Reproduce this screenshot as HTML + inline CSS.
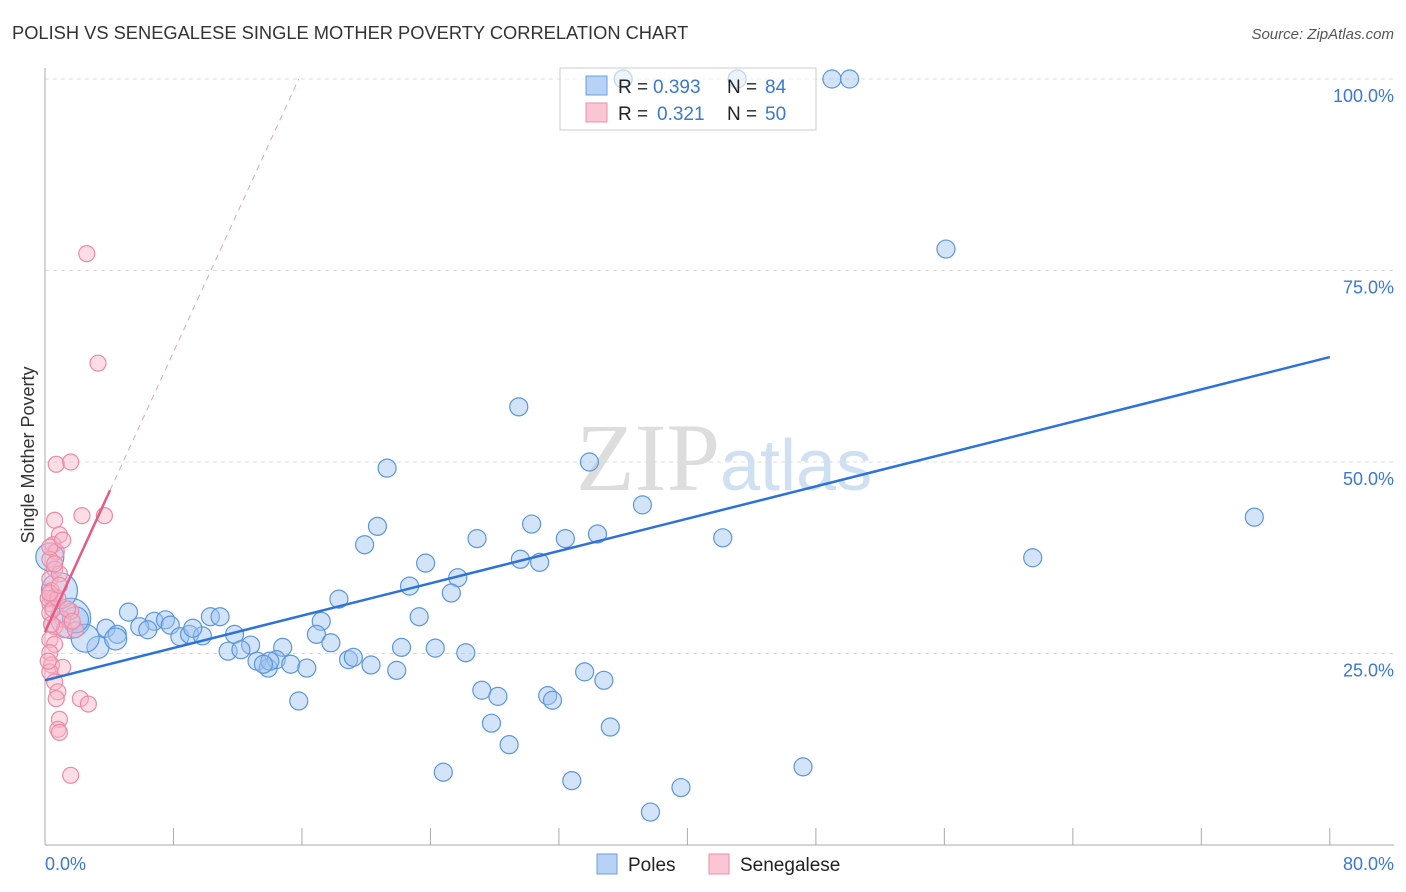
<!DOCTYPE html>
<html><head><meta charset="utf-8"><style>
body{margin:0;background:#fff;font-family:"Liberation Sans",sans-serif;}
svg{display:block}
</style></head><body>
<svg id="chart" width="1406" height="892" xmlns="http://www.w3.org/2000/svg">
<text x="12" y="39" font-size="18.3" fill="#333">POLISH VS SENEGALESE SINGLE MOTHER POVERTY CORRELATION CHART</text>
<text x="1394" y="39" font-size="15" fill="#555" font-style="italic" text-anchor="end">Source: ZipAtlas.com</text>
<text x="720" y="490" font-size="96" fill="#ddd" font-family="Liberation Serif" text-anchor="end">ZIP</text>
<text x="720" y="490" font-size="72" fill="#cfe0f3">atlas</text>
<g id="grid"></g>
<line x1="45" y1="68" x2="45" y2="845" stroke="#aaa"/>
<line x1="45" y1="845" x2="1394" y2="845" stroke="#aaa"/>
<text x="34" y="455" font-size="18" fill="#333" text-anchor="middle" transform="rotate(-90 34 455)">Single Mother Poverty</text>
<text x="45" y="870" font-size="18" fill="#3a78d4">0.0%</text>
<text x="1394" y="870" font-size="18" fill="#3a78d4" text-anchor="end">80.0%</text>
<g id="points"></g>
<g id="trends"></g>
<g>
<rect x="560" y="68" width="256" height="62" fill="#fff" fill-opacity="0.6" stroke="#ccc"/>
<rect x="586" y="76" width="21" height="19" fill="#b7d2f4" stroke="#6a9fe0"/>
<rect x="586" y="103" width="21" height="19" fill="#fbc6d4" stroke="#ee8fa9"/>
<text x="618" y="93" font-size="19" fill="#222">R =</text>
<text x="653" y="93" font-size="19" fill="#3a78d4">0.393</text>
<text x="727" y="93" font-size="19" fill="#222">N =</text>
<text x="765" y="93" font-size="19" fill="#3a78d4">84</text>
<text x="618" y="120" font-size="19" fill="#222">R =</text>
<text x="657" y="120" font-size="19" fill="#3a78d4">0.321</text>
<text x="727" y="120" font-size="19" fill="#222">N =</text>
<text x="765" y="120" font-size="19" fill="#3a78d4">50</text>
</g>
<g>
<rect x="597" y="854" width="20" height="20" fill="#b7d2f4" stroke="#6a9fe0"/>
<text x="628" y="871" font-size="19" fill="#222">Poles</text>
<rect x="709" y="854" width="20" height="20" fill="#fbc6d4" stroke="#ee8fa9"/>
<text x="740" y="871" font-size="19" fill="#222">Senegalese</text>
</g>
</svg>
<script>
const yTicks=[25,50,75,100];
const yTickLabels=["25.0%","50.0%","75.0%","100.0%"];
const xTicks=[8,16,24,32,40,48,56,64,72,80];
const polesX=[36.0,43.1,49.0,50.1,56.1,29.5,21.3,33.9,37.2,75.3,30.3,20.7,26.9,32.4,34.4,42.2,19.9,61.5,29.6,30.8,23.7,25.7,22.7,25.3,18.3,5.2,23.3,17.2,6.8,7.5,10.3,10.9,5.9,6.4,7.8,3.8,4.5,8.4,9.0,9.8,11.8,16.9,17.8,12.8,14.8,22.2,24.3,26.2,11.4,12.2,13.2,13.9,14.4,15.3,16.3,18.9,19.2,20.3,21.9,33.6,34.8,27.2,28.2,31.3,31.6,15.8,27.8,35.2,28.9,24.8,32.8,47.2,39.6,37.7,3.3,1.6,0.9,0.3,2.5,4.4,1.9,14.0,9.2,13.6];
const polesY=[100,100,100,100,77.8,57.2,49.2,50.0,44.4,42.8,41.9,41.6,40.0,40.0,40.6,40.1,39.2,37.5,37.3,36.9,36.8,34.9,33.8,32.9,32.1,30.4,29.8,29.2,29.2,29.4,29.8,29.8,28.5,28.1,28.7,28.3,27.5,27.2,27.5,27.3,27.5,27.5,26.4,26.1,25.8,25.8,25.7,25.1,25.3,25.5,24.0,23.1,24.2,23.6,23.1,24.2,24.5,23.5,22.8,22.6,21.5,20.2,19.4,19.5,18.9,18.8,15.9,15.4,13.1,9.5,8.4,10.2,7.5,4.3,25.8,29.6,33.2,37.6,27.0,26.9,29.4,24.0,28.3,23.6];
const polesR=[9,9,9,9,9,9,9,9,9,9,9,9,9,9,9,9,9,9,9,9,9,9,9,9,9,9,9,9,9,9,9,9,9,9,9,9,9,9,9,9,9,9,9,9,9,9,9,9,9,9,9,9,9,9,9,9,9,9,9,9,9,9,9,9,9,9,9,9,9,9,9,9,9,9,11,20,18,14,14,11,13,9,9,9];
const senX=[2.6,3.3,0.7,1.6,3.7,2.3,0.6,0.9,0.5,0.7,0.3,0.6,0.3,0.9,0.4,0.6,0.3,1.6,1.1,0.6,1.2,0.3,0.6,0.3,0.4,1.1,0.3,0.6,0.8,0.7,2.2,2.7,0.9,0.8,0.9,1.6,0.3,0.2,0.4,1.9,0.2,0.5,0.8,0.3,1.4,1.7,0.9,0.6,0.3,1.1];
const senY=[77.2,62.9,49.7,50.0,43.0,43.0,42.4,40.5,39.2,38.3,37.3,36.0,34.7,35.4,33.2,32.4,31.5,30.5,29.5,28.5,28.1,26.8,26.2,25.1,23.5,23.2,22.6,21.3,20.0,19.1,19.1,18.4,16.4,15.1,14.7,9.1,30.3,32.2,28.8,28.1,24.0,30.8,32.2,32.9,30.8,29.2,33.9,36.7,38.9,39.8];
const blueTrend=[21.5,63.7];
const pinkTrend=[27.8,4.57];
const X=v=>45+v*16.06, Y=v=>845-v*7.66;
const NS="http://www.w3.org/2000/svg";
function mk(t,a,p){const e=document.createElementNS(NS,t);for(const k in a)e.setAttribute(k,a[k]);document.getElementById(p).appendChild(e);return e;}
yTicks.forEach((v,i)=>{
 const l=mk('line',{x1:45,x2:1394,y1:Y(v),y2:Y(v),stroke:'#ddd','stroke-dasharray':'4,4'},'grid');
 
 
 const t=mk('text',{x:1394,y:Y(v)+23,'font-size':18,fill:'#3a78d4','text-anchor':'end'},'grid');
 t.textContent=yTickLabels[i];
 
 
});
xTicks.forEach(v=>{
 const l=mk('line',{x1:X(v),x2:X(v),y1:828,y2:845,stroke:'#aaa'},'grid');
 
 
});
polesX.forEach((v,i)=>{
 const c=mk('circle',{cx:X(v),cy:Y(polesY[i]),r:polesR[i],fill:'rgba(160,196,240,0.45)',stroke:'#5b96dd','stroke-width':1.2},'points');
 
 
});
senX.forEach((v,i)=>{
 const c=mk('circle',{cx:X(v),cy:Y(senY[i]),r:8,fill:'rgba(248,180,200,0.45)',stroke:'#ec8aa6','stroke-width':1.2},'points');
 
 
});
let b=mk('line',{x1:X(0),y1:Y(blueTrend[0]),x2:X(80),y2:Y(blueTrend[1]),stroke:'#2d72d6','stroke-width':2.5},'trends');


const pEnd=(100-pinkTrend[0])/pinkTrend[1];
let p=mk('line',{x1:X(0),y1:Y(pinkTrend[0]),x2:X(4.05),y2:Y(pinkTrend[0]+pinkTrend[1]*4.05),stroke:'#e45c85','stroke-width':2.5},'trends');


let pd=mk('line',{x1:X(4.05),y1:Y(pinkTrend[0]+pinkTrend[1]*4.05),x2:X(pEnd),y2:Y(100),stroke:'#eba0b6','stroke-width':1,'stroke-dasharray':'6,5'},'trends');


</script>
</body></html>
